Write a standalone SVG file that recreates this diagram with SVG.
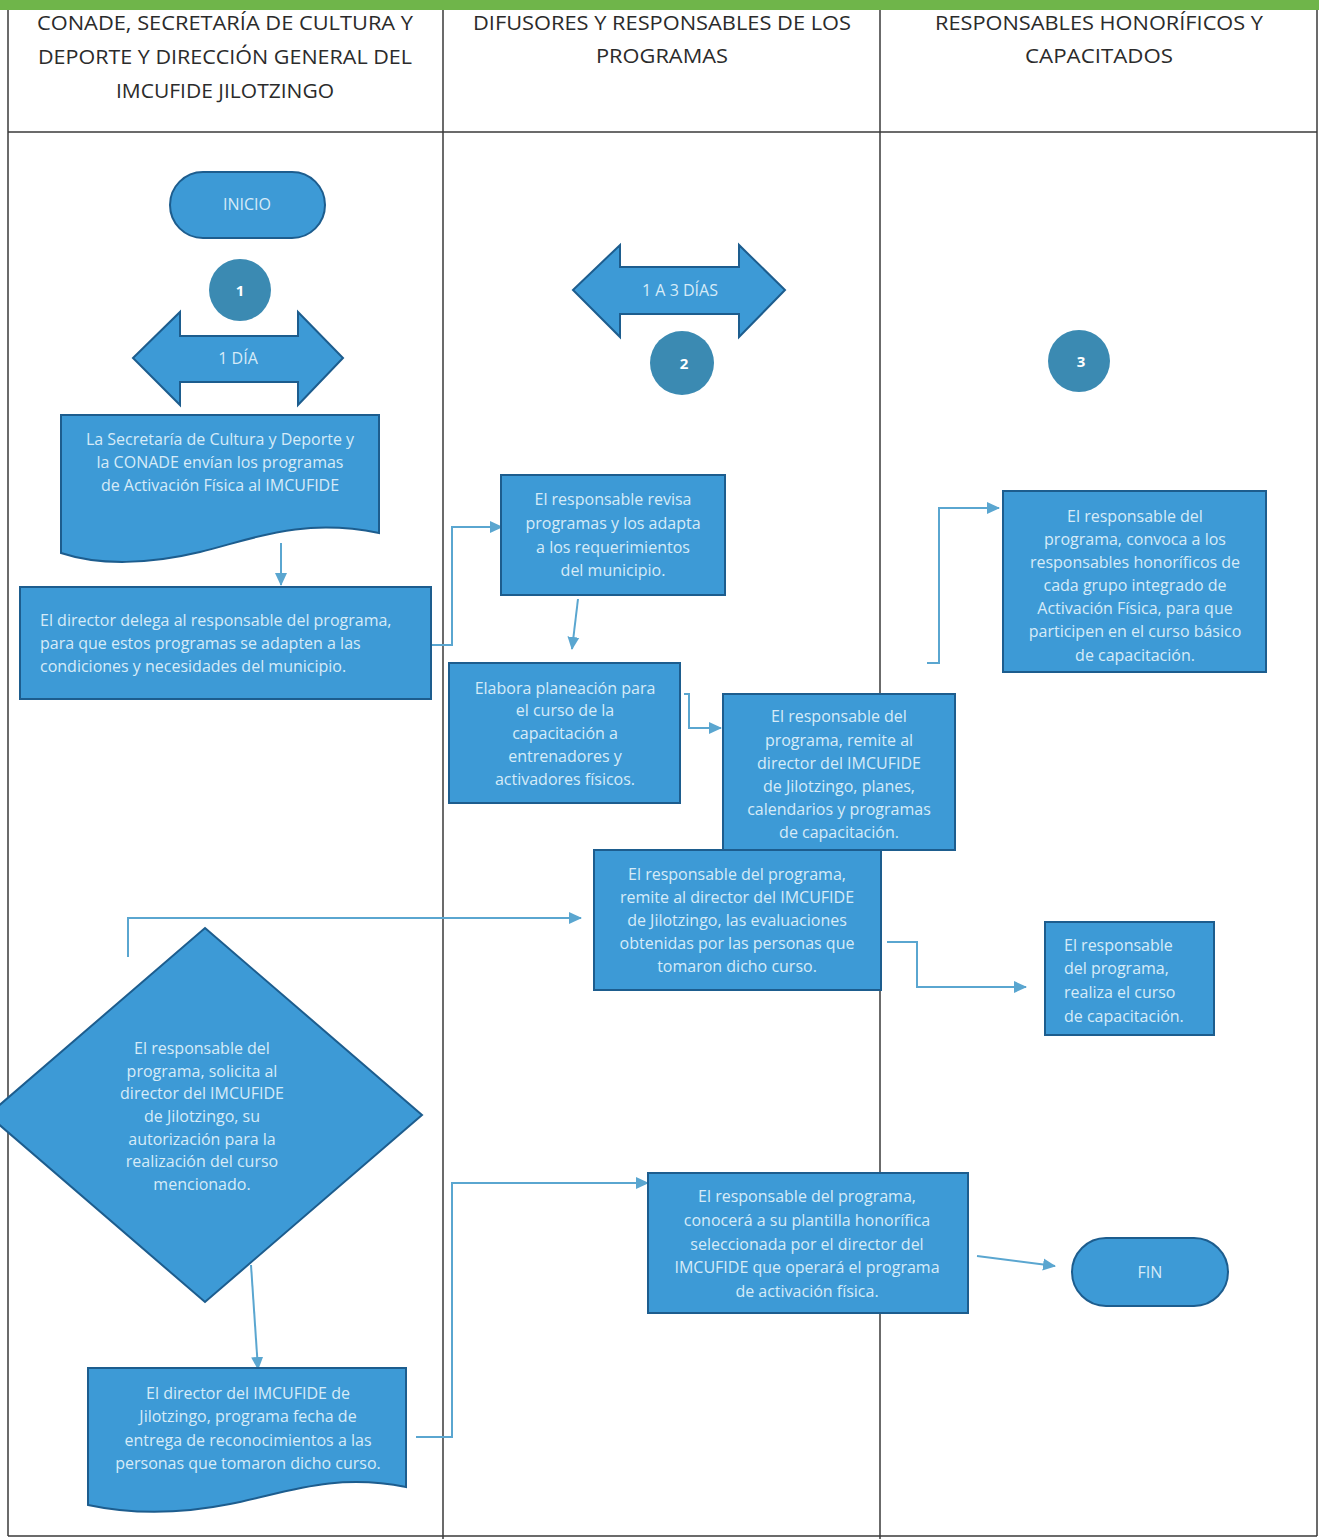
<svg xmlns="http://www.w3.org/2000/svg" width="1319" height="1539" viewBox="0 0 1319 1539">
<style>
.lane{stroke:#3a3a3a;stroke-width:1.5;fill:none}
.hdr{font-family:"Open Sans","Liberation Sans",sans-serif;font-size:20px;fill:#2b2b2b;text-anchor:middle}
.box{fill:#3d9ad6;stroke:#1d5d8e;stroke-width:2}
.t{font-family:"Open Sans","Liberation Sans",sans-serif;font-size:16px;fill:#d6ebf8;text-anchor:middle}
.tl{font-family:"Open Sans","Liberation Sans",sans-serif;font-size:16px;fill:#d6ebf8}
.num{fill:#3b8ab2}
.nt{font-family:"Open Sans","Liberation Sans",sans-serif;font-size:15px;font-weight:bold;fill:#ffffff;text-anchor:middle}
.con{stroke:#5aa6d0;stroke-width:2;fill:none;marker-end:url(#ah)}
</style>
<defs>
<marker id="ah" markerWidth="14" markerHeight="14" refX="12" refY="7" orient="auto" markerUnits="userSpaceOnUse">
<path d="M0,1 L13,7 L0,13 Z" fill="#5aa6d0"/>
</marker>
</defs>
<rect x="0" y="0" width="1319" height="1539" fill="#ffffff"/>
<g id="lanes">
<rect x="0" y="0" width="1319" height="10" fill="#6fb54a"/>
<line class="lane" x1="8" y1="10" x2="8" y2="1536"/>
<line class="lane" x1="443" y1="10" x2="443" y2="1539"/>
<line class="lane" x1="880" y1="10" x2="880" y2="1539"/>
<line class="lane" x1="1317" y1="10" x2="1317" y2="1536"/>
<line class="lane" x1="8" y1="132" x2="1317" y2="132"/>
<line class="lane" x1="8" y1="1536" x2="1317" y2="1536"/>
<text class="hdr" x="225" y="30" textLength="376" lengthAdjust="spacingAndGlyphs">CONADE, SECRETARÍA DE CULTURA Y</text>
<text class="hdr" x="225" y="64" textLength="374" lengthAdjust="spacingAndGlyphs">DEPORTE Y DIRECCIÓN GENERAL DEL</text>
<text class="hdr" x="225" y="98" textLength="218" lengthAdjust="spacingAndGlyphs">IMCUFIDE JILOTZINGO</text>
<text class="hdr" x="662" y="30" textLength="378" lengthAdjust="spacingAndGlyphs">DIFUSORES Y RESPONSABLES DE LOS</text>
<text class="hdr" x="662" y="63" textLength="132" lengthAdjust="spacingAndGlyphs">PROGRAMAS</text>
<text class="hdr" x="1099" y="30" textLength="328" lengthAdjust="spacingAndGlyphs">RESPONSABLES HONORÍFICOS Y</text>
<text class="hdr" x="1099" y="63" textLength="148" lengthAdjust="spacingAndGlyphs">CAPACITADOS</text>
</g>
<g id="connectors">
<line class="con" x1="281" y1="543" x2="281" y2="585"/>
<polyline class="con" points="431,645 452,645 452,527 502,527"/>
<line class="con" x1="578" y1="599" x2="572" y2="649"/>
<polyline class="con" points="684,694 689,694 689,728 721,728"/>
<polyline class="con" points="927,663 939,663 939,508 999,508"/>
<polyline class="con" points="128,957 128,918 581,918"/>
<polyline class="con" points="887,942 917,942 917,987 1026,987"/>
<line class="con" x1="251" y1="1265" x2="258" y2="1369"/>
<polyline class="con" points="416,1437 452,1437 452,1183 648,1183"/>
<line class="con" x1="977" y1="1256" x2="1055" y2="1266"/>
</g>
<g id="inicio">
<rect class="box" x="170" y="172" width="155" height="66" rx="33"/>
<text class="t" x="247" y="210">INICIO</text>
</g>
<g id="step1">
<circle class="num" cx="240" cy="290" r="31"/>
<text class="nt" x="240" y="296">1</text>
</g>
<g id="dur1">
<polygon class="box" points="133,358 180,312 180,336 298,336 298,312 343,358 298,405 298,382 180,382 180,405"/>
<text class="t" x="238" y="364">1 DÍA</text>
</g>
<g id="doc1">
<path class="box" d="M61,415 H379 V533 C300,517 250,540 200,552 C150,564 100,566 61,553 Z"/>
<text class="t" x="220" y="445">La Secretaría de Cultura y Deporte y</text>
<text class="t" x="220" y="468">la CONADE envían los programas</text>
<text class="t" x="220" y="491">de Activación Física al IMCUFIDE</text>
</g>
<g id="delega">
<rect class="box" x="20" y="587" width="411" height="112"/>
<text class="tl" x="40" y="626">El director delega al responsable del programa,</text>
<text class="tl" x="40" y="649">para que estos programas se adapten a las</text>
<text class="tl" x="40" y="672">condiciones y necesidades del municipio.</text>
</g>
<g id="dur2">
<polygon class="box" points="573,290 620,245 620,267 739,267 739,245 785,290 739,337 739,314 620,314 620,337"/>
<text class="t" x="680" y="296">1 A 3 DÍAS</text>
</g>
<g id="step2">
<circle class="num" cx="682" cy="363" r="32"/>
<text class="nt" x="684" y="369">2</text>
</g>
<g id="revisa">
<rect class="box" x="501" y="475" width="224" height="120"/>
<text class="t" x="613" y="505">El responsable revisa</text>
<text class="t" x="613" y="529">programas y los adapta</text>
<text class="t" x="613" y="553">a los requerimientos</text>
<text class="t" x="613" y="576">del municipio.</text>
</g>
<g id="elabora">
<rect class="box" x="449" y="663" width="231" height="140"/>
<text class="t" x="565" y="694">Elabora planeación para</text>
<text class="t" x="565" y="716">el curso de la</text>
<text class="t" x="565" y="739">capacitación a</text>
<text class="t" x="565" y="762">entrenadores y</text>
<text class="t" x="565" y="785">activadores físicos.</text>
</g>
<g id="remite1">
<rect class="box" x="723" y="694" width="232" height="156"/>
<text class="t" x="839" y="722">El responsable del</text>
<text class="t" x="839" y="746">programa, remite al</text>
<text class="t" x="839" y="769">director del IMCUFIDE</text>
<text class="t" x="839" y="792">de Jilotzingo, planes,</text>
<text class="t" x="839" y="815">calendarios y programas</text>
<text class="t" x="839" y="838">de capacitación.</text>
</g>
<g id="step3">
<circle class="num" cx="1079" cy="361" r="31"/>
<text class="nt" x="1081" y="367">3</text>
</g>
<g id="convoca">
<rect class="box" x="1003" y="491" width="263" height="181"/>
<text class="t" x="1135" y="522">El responsable del</text>
<text class="t" x="1135" y="545">programa, convoca a los</text>
<text class="t" x="1135" y="568">responsables honoríficos de</text>
<text class="t" x="1135" y="591">cada grupo integrado de</text>
<text class="t" x="1135" y="614">Activación Física, para que</text>
<text class="t" x="1135" y="637">participen en el curso básico</text>
<text class="t" x="1135" y="661">de capacitación.</text>
</g>
<g id="remite2">
<rect class="box" x="594" y="850" width="287" height="140"/>
<text class="t" x="737" y="880">El responsable del programa,</text>
<text class="t" x="737" y="903">remite al director del IMCUFIDE</text>
<text class="t" x="737" y="926">de Jilotzingo, las evaluaciones</text>
<text class="t" x="737" y="949">obtenidas por las personas que</text>
<text class="t" x="737" y="972">tomaron dicho curso.</text>
</g>
<g id="realiza">
<rect class="box" x="1045" y="922" width="169" height="113"/>
<text class="tl" x="1064" y="951">El responsable</text>
<text class="tl" x="1064" y="974">del programa,</text>
<text class="tl" x="1064" y="998">realiza el curso</text>
<text class="tl" x="1064" y="1022">de capacitación.</text>
</g>
<g id="solicita">
<polygon class="box" points="205,928 422,1115 205,1302 -12,1115"/>
<text class="t" x="202" y="1054">El responsable del</text>
<text class="t" x="202" y="1077">programa, solicita al</text>
<text class="t" x="202" y="1099">director del IMCUFIDE</text>
<text class="t" x="202" y="1122">de Jilotzingo, su</text>
<text class="t" x="202" y="1145">autorización para la</text>
<text class="t" x="202" y="1167">realización del curso</text>
<text class="t" x="202" y="1190">mencionado.</text>
</g>
<g id="conocera">
<rect class="box" x="648" y="1173" width="320" height="140"/>
<text class="t" x="807" y="1202">El responsable del programa,</text>
<text class="t" x="807" y="1226">conocerá a su plantilla honorífica</text>
<text class="t" x="807" y="1250">seleccionada por el director del</text>
<text class="t" x="807" y="1273">IMCUFIDE que operará el programa</text>
<text class="t" x="807" y="1297">de activación física.</text>
</g>
<g id="fin">
<rect class="box" x="1072" y="1238" width="156" height="68" rx="34"/>
<text class="t" x="1150" y="1278">FIN</text>
</g>
<g id="doc2">
<path class="box" d="M88,1368 H406 V1487 C330,1472 280,1495 230,1504 C180,1514 130,1514 88,1505 Z"/>
<text class="t" x="248" y="1399">El director del IMCUFIDE de</text>
<text class="t" x="248" y="1422">Jilotzingo, programa fecha de</text>
<text class="t" x="248" y="1446">entrega de reconocimientos a las</text>
<text class="t" x="248" y="1469">personas que tomaron dicho curso.</text>
</g>
</svg>
